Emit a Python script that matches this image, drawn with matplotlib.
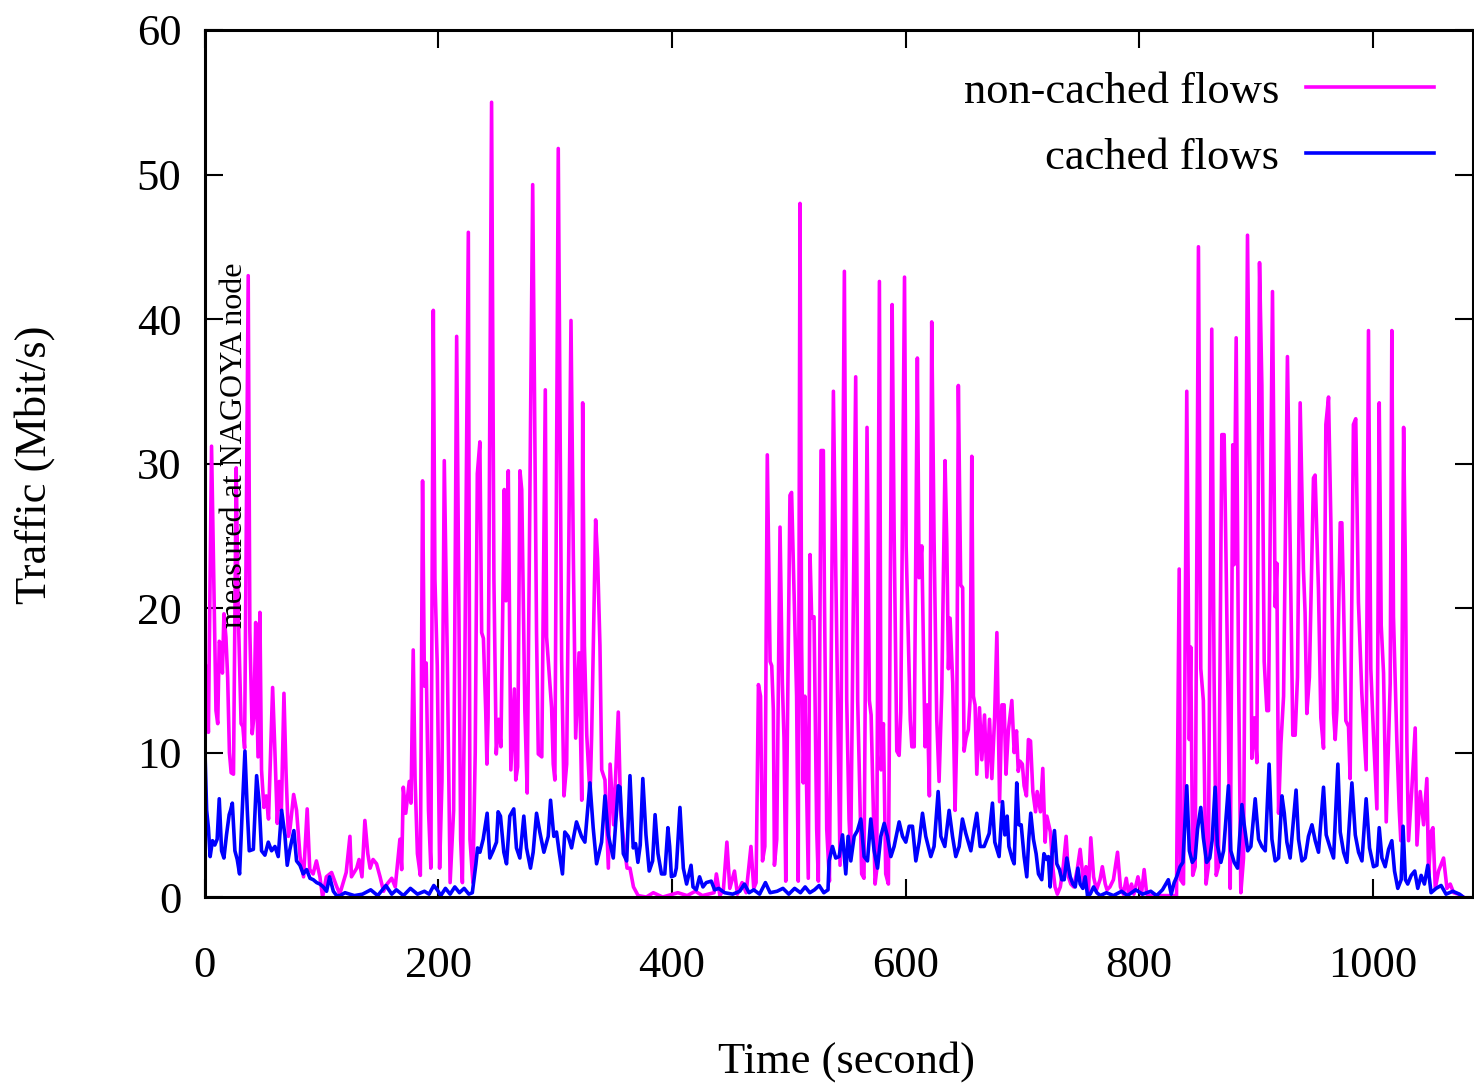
import matplotlib
matplotlib.use('Agg')
import matplotlib.pyplot as plt

plt.rcParams['font.family'] = ['Liberation Serif', 'DejaVu Serif']

# non-cached flows (magenta), time in seconds / Mbit/s
t_noncached = [0, 1, 3, 5.7, 7.5, 9.5, 11, 12.3, 13.5, 15, 16.3, 18, 19.5, 21, 22.5, 24.5, 26.8, 28.5, 31, 32.5,
               34, 37.1, 38.5, 40.5, 42, 43.5, 45.5, 47.1, 48.5, 50.5, 52.5, 54.5, 58, 60, 62, 63.7, 65.5, 67.7, 69.5, 71.5,
               73, 76, 78.5, 81.5, 84.5, 87.6, 89.8, 92.7, 95.5, 98.5, 100.8, 104, 108.5, 112.5, 115.5, 121, 124.2, 125.5, 130, 132,
               134.5, 137, 139.5, 141.5, 144, 147, 150, 153, 156, 160, 163, 167, 168.5, 169.9, 172, 175, 176.5, 178.4, 180, 182,
               184.5, 186.4, 188, 189.5, 191.5, 193.5, 195.6, 197, 199, 201, 203, 205, 207.5, 210, 213, 215.6, 217.5, 219, 220.5, 222.5,
               225.6, 227, 229.5, 231.5, 233.3, 235.5, 237, 238.5, 240.5, 241.5, 242.5, 245.5, 247.5, 249.5, 251.5, 253.5, 256.4, 257.8, 259.8, 262,
               265, 266.2, 267.8, 269.8, 271.3, 274, 276, 280.7, 284, 285.5, 288.5, 291.5, 292.6, 296.9, 298.3, 299.7, 302.6, 305.5, 307.5, 309.8,
               313.5, 315.5, 317.5, 320.4, 322.7, 323.5, 325, 327, 329.8, 331.2, 334.6, 336.3, 338.3, 339.8, 342.6, 345.5, 347, 350, 354, 356,
               358.5, 361.5, 364, 367, 371, 378, 384, 392, 405, 413, 420, 426, 436, 438, 441, 444, 447, 449.5, 453.5, 456,
               460, 463.5, 467.6, 470, 472, 474, 475.8, 477.5, 479.5, 481.6, 484, 485.4, 486.8, 487.7, 489.7, 492.5, 494.5, 495.9, 497.4, 501,
               502.4, 506.7, 508.1, 509.6, 511, 512.4, 513.8, 516.7, 518.2, 519.6, 521.6, 523.9, 525.3, 527.6, 529.6, 530.5, 532.5, 534.8, 538.2, 540.2,
               542.5, 543.9, 547.6, 549.6, 551.6, 553, 557.3, 559, 562.4, 564.4, 567, 569, 570.5, 573.9, 575.3, 577.6, 579, 581, 583, 585.3,
               588.5, 590.2, 592.5, 594.5, 595.9, 599.1, 600.5, 604, 605.4, 607.4, 610.1, 611.6, 613.9, 616.7, 618.7, 620.4, 622.4, 624.4, 626.7, 628.7,
               631, 633.8, 635.3, 636.7, 638.1, 640.4, 642.4, 643.8, 645.2, 647.2, 648.9, 650.1, 651.8, 653.8, 655.2, 656.7, 658.1, 659.5, 661, 663.3,
               665.3, 667.6, 669.6, 671.9, 673.9, 676.2, 678.2, 680.5, 682.5, 684.4, 686, 688, 691, 693, 695, 696.5, 698, 700, 701.5, 703.5,
               705.2, 707, 709, 711.3, 712.7, 715.5, 717.5, 719.5, 721, 724, 726, 728, 730, 732.5, 735, 737.5, 739.5, 741.5, 744, 747,
               749.5, 752.5, 754.5, 756.5, 758.6, 761, 763.5, 766.5, 768.5, 771, 772.5, 775, 778, 781.5, 784, 786.5, 789, 791, 793.5, 795.5,
               799, 802, 804.3, 806.5, 810, 820, 832, 834.3, 835.5, 838, 840.8, 843, 844.2, 845.9, 848, 850.8, 852.8, 855, 857.3, 859.3,
               862.2, 864.2, 866, 867.9, 870.8, 872.8, 874.5, 876.5, 878, 880.2, 881.3, 883.1, 885.1, 887.1, 889.4, 892.8, 895.1, 896.5, 898.8, 900.8,
               903.1, 905.1, 907.1, 909.4, 910.8, 914.2, 916.5, 917.9, 919.4, 921.4, 923.7, 927, 929.3, 931.6, 933.6, 935.6, 937.9, 940.7, 942.1, 943.6,
               945.8, 949.3, 950.7, 953.6, 955.6, 957.9, 959.9, 962.2, 964.2, 966.5, 967.9, 969.4, 972.2, 973.6, 975, 977, 979.3, 980.7, 983.5, 985.5,
               987.8, 990.7, 992.7, 994.4, 996.4, 998.4, 1000.7, 1003.6, 1005.6, 1007.3, 1009.3, 1011.6, 1015, 1016.4, 1017.8, 1020.7, 1022.7, 1024.1, 1026.5, 1027.9,
               1029.3, 1030.7, 1033.6, 1036.4, 1037.9, 1040.7, 1043.6, 1046.4, 1047.9, 1049.9, 1051.6, 1053.6, 1056.4, 1060.7, 1063.6, 1066.4, 1069.3, 1073.6, 1077.5]
noncached = [10, 16, 11.4, 31.2, 22.5, 12.9, 12, 17.7, 17.5, 15.5, 19.6, 18, 15.2, 10, 8.6, 8.5, 29.7, 20, 12, 11.8,
             10.3, 43, 18.4, 11.3, 12.5, 19, 9.7, 19.7, 8.8, 6.2, 7, 5.4, 14.5, 10, 5.1, 8, 6, 14.1, 8.6, 4.2,
             4.8, 7.1, 6, 2.8, 1.4, 6.1, 1.9, 1.6, 2.5, 1.4, 0, 1.4, 1.7, 0.8, 0.2, 1.7, 4.2, 1.4, 2.0, 2.6,
             1.4, 5.3, 3.0, 2.0, 2.6, 2.3, 1.4, 0.4, 0.9, 1.3, 0.7, 4, 1.9, 7.6, 5.8, 8, 6.5, 17.1, 8.1, 3,
             1.5, 28.8, 14.6, 16.2, 6, 2, 40.6, 22, 16, 2, 8, 30.2, 16.9, 1, 6, 38.8, 20, 4, 1, 15,
             46, 4, 1, 10, 29.3, 31.5, 18.3, 17.9, 12.8, 9.2, 12.4, 55, 22, 9.9, 12.3, 10.4, 28.2, 20.5, 29.5, 8.8,
             14.4, 8.1, 9, 29.5, 28.2, 12.9, 7.2, 49.3, 18.3, 9.9, 9.7, 35.1, 18, 13.1, 9.2, 8.1, 51.8, 16.4, 7, 9.2,
             39.9, 23.7, 11, 16.9, 6.7, 34.2, 17.4, 11.2, 7, 11.2, 26.1, 23.4, 17.4, 8.8, 8.1, 2, 9.2, 5, 12.8, 6,
             3.9, 2, 2, 0.7, 0.1, 0, 0.3, 0, 0.3, 0.1, 0.4, 0.1, 0.3, 1.6, 0.1, 0.5, 3.8, 0.6, 1.8, 0.2,
             1.0, 0.3, 3.5, 0.6, 1.0, 14.7, 13.9, 2.5, 3.5, 30.6, 16.3, 16, 12.9, 2.2, 4, 25.6, 14.8, 11, 1.1, 27.8,
             28, 13.9, 1.1, 48, 17.5, 7.9, 13.9, 1.3, 23.7, 19.3, 19.4, 4.7, 1.1, 30.9, 30.9, 21.2, 4.7, 1.1, 35, 22.7,
             10.1, 2.2, 43.3, 13.7, 5.4, 2.8, 36, 13.6, 1.6, 1.3, 32.5, 13.6, 12.6, 0.9, 1.9, 42.6, 8.8, 12, 1.6, 0.9,
             41, 25.3, 10.1, 9.8, 12.8, 42.9, 24.3, 12.3, 10.4, 10.4, 37.3, 22.1, 24.3, 10.4, 13.3, 7, 39.8, 24.8, 12.3, 8,
             14.2, 30.2, 24.6, 15.8, 19.3, 14.8, 6, 11, 35.4, 21.6, 21.4, 10.1, 11, 11.6, 13.6, 30.5, 13.9, 13.3, 8.5, 13.1,
             9.5, 12.6, 8.3, 12.3, 8.2, 12.3, 18.3, 6.6, 13.3, 13.3, 8.5, 11.5, 13.6, 10, 11.5, 8.7, 9.4, 9.2, 7.7, 7,
             10.9, 10.8, 7.3, 5.9, 7.3, 5.9, 8.9, 3.8, 5.6, 4.5, 2.1, 0.7, 0.2, 0.7, 2.1, 4.2, 1.4, 0.9, 0.7, 1.9,
             3.3, 0.9, 2.1, 0.2, 4.1, 1.4, 0.5, 1.2, 2.1, 0.9, 0.5, 0.7, 1.2, 3.1, 0.7, 0.2, 1.3, 0.2, 0.9, 0.2,
             1.4, 0.2, 1.9, 0.2, 0.1, 0.1, 0.1, 22.7, 1.2, 0.9, 35, 10.9, 17.3, 1.5, 2.1, 45, 15.8, 13.6, 0.9, 2.1,
             39.3, 15.2, 1.5, 2.1, 32, 32, 23, 11.5, 0.6, 31.3, 23, 38.7, 16, 0.3, 2.7, 45.8, 27.5, 9.6, 12.4, 9.3,
             43.9, 35.4, 16.3, 12.9, 12.9, 41.9, 20.1, 23.1, 5.8, 10.6, 13.9, 37.4, 24.6, 11.2, 11.2, 15.2, 34.2, 22.7, 19.7, 12.7,
             15.2, 29, 29.2, 21.2, 12.4, 10.3, 32.7, 34.6, 25.9, 12.7, 10.9, 13, 25.9, 25.9, 20.7, 12.2, 11.8, 8.2, 32.7, 33.1,
             20.4, 14.1, 11.2, 8.8, 39.2, 15.8, 11.2, 6.1, 34.2, 18.8, 15.5, 5.2, 14.8, 39.2, 19.4, 10.8, 6.1, 3.9, 32.5, 23.6,
             10.5, 3.9, 7.6, 11.7, 3.6, 7.3, 5, 8.2, 1.5, 4.5, 4.8, 0.6, 1.8, 2.7, 0.6, 0.9, 0.3, 0.2, 0]

# cached flows (blue)
t_cached = [0, 1.5, 3, 4.5, 6.5, 8.5, 10.5, 12.3, 14.3, 16.3, 18.5, 20.8, 22, 23.5, 25.7, 27.7, 29.7, 32, 34.3, 36.3,
            38, 41.5, 44.3, 46.5, 48.5, 51.4, 54.3, 57.1, 60, 62.8, 65.7, 68.5, 70.5, 72.8, 76.2, 78.5, 81.4, 84.2, 87.1, 90,
            92.8, 95.7, 98.5, 101.4, 104.2, 106.8, 110, 112.8, 115.7, 120, 128, 135, 142, 148, 155, 160, 164, 170, 176, 182,
            188, 192, 196, 199, 202, 206, 210, 214, 218, 222, 226, 229, 232.1, 233.5, 235.5, 238.3, 241.7, 244, 246.8, 249.7,
            251.1, 253.1, 256, 258.3, 261.1, 264.5, 266.8, 269.7, 273.1, 275.4, 278.8, 281.1, 284, 286.8, 290.3, 294, 296, 298.8, 301.1, 303.4,
            306.2, 308.2, 311.1, 314, 318.2, 322.5, 325.4, 329.7, 332.5, 335.4, 339.7, 342.6, 345.4, 349.7, 354, 355.5, 358.3, 361.2, 364, 366.8,
            368.8, 370.8, 372.8, 375, 377.7, 380.5, 383.4, 385.5, 388, 391, 393.8, 396.5, 398, 399.5, 402.3, 403.7, 406.8, 409.7, 412.5, 416.3,
            418, 420.8, 423.6, 426.5, 429.3, 433.6, 436.5, 440, 445, 452, 458, 462, 466, 470, 475, 480, 484, 490, 495, 500,
            505, 510, 514, 518, 522, 526, 530, 533.6, 534.5, 537.4, 540.2, 543.1, 546, 548.8, 550.8, 553.1, 556, 558.8, 561.7, 564.5,
            567.4, 570.2, 573.1, 576, 578.8, 581.7, 584.5, 587.4, 590.2, 594.5, 597.4, 600.2, 603.1, 605.9, 608.8, 611.6, 614.5, 617.3, 621.6, 624.4,
            627.9, 630.2, 633.6, 637.3, 640.2, 643, 645.9, 648.7, 651.6, 655.9, 658.7, 661, 663.9, 667.3, 671.6, 674.4, 676.4, 680.1, 683, 685,
            687, 688.5, 691.5, 693, 695.2, 697, 699, 701.5, 703.8, 705.5, 707.2, 709.5, 711.8, 713.8, 716.6, 718.5, 720.8, 722.3, 723.8, 725.5,
            727.5, 729.5, 731.8, 733.8, 735.8, 738.1, 741, 743.3, 745.3, 747.6, 749.5, 751.8, 753.8, 755.8, 758.1, 761, 763.8, 766.7, 772, 778,
            785, 790, 797, 803, 810, 815, 820, 825, 827.5, 830, 832.2, 835, 837.5, 840.8, 843, 845.5, 848, 850, 852.8, 855,
            857.8, 860.5, 862.5, 865.1, 867, 870, 872.3, 876.5, 878.5, 881.4, 884.3, 888, 890, 893, 895.7, 899.4, 902.3, 905.1, 908, 911.3,
            913.7, 916.5, 919.4, 922.3, 924.3, 926.5, 929.3, 934.4, 936.5, 939.4, 942.2, 945, 948, 950.8, 953.6, 957.9, 960.2, 963.6, 966.5, 970.2,
            972.2, 975.1, 977.9, 982.2, 985.1, 987.9, 990.8, 994.4, 997.3, 1000.7, 1003.6, 1005.6, 1007.9, 1010.7, 1013.6, 1016.4, 1018.7, 1021.5, 1024.4, 1026,
            1028, 1030, 1033, 1036, 1038.6, 1041.5, 1044.3, 1047.2, 1050, 1054.3, 1058.6, 1062.8, 1068.6, 1074.3, 1077.5]
cached = [10.3, 6, 4.8, 2.8, 3.9, 3.6, 4, 6.8, 3.2, 2.7, 4.3, 5.7, 6, 6.5, 3.2, 2.6, 1.6, 6, 10.1, 6,
          3.2, 3.3, 8.4, 6.5, 3.2, 2.9, 3.8, 3.2, 3.5, 2.8, 6, 4.3, 2.2, 3.3, 4.6, 2.5, 2.2, 1.6, 1.9, 1.3,
          1.2, 1.0, 0.9, 0.7, 0.4, 1.4, 0.4, 0.1, 0.1, 0.3, 0.1, 0.2, 0.5, 0.1, 0.8, 0.2, 0.5, 0.1, 0.6, 0.2,
          0.4, 0.2, 0.8, 0.5, 0.1, 0.6, 0.2, 0.7, 0.3, 0.6, 0.2, 0.3, 2.3, 3.4, 3.1, 4, 5.8, 2.7, 3.2, 3.8,
          5.9, 5.6, 3.1, 2.3, 5.6, 6.1, 3.4, 2.7, 5.6, 3.4, 2, 3.1, 5.8, 4.5, 3.1, 4.2, 6.7, 4.2, 4.5, 3.1,
          1.6, 4.5, 4.2, 3.4, 5.2, 4.2, 3.8, 7.9, 4.8, 2.3, 3.8, 7, 4.3, 2.7, 7.7, 7.6, 3.0, 2.5, 8.4, 3.4,
          3.7, 2.4, 3.6, 8.2, 4.3, 1.8, 2.5, 5.7, 3, 1.6, 1.6, 4.8, 3.5, 1.4, 1.5, 2, 6.2, 2, 0.9, 2.2,
          0.7, 0.5, 1.4, 0.7, 1.0, 1.1, 0.5, 0.6, 0.3, 0.2, 0.4, 0.9, 0.3, 0.5, 0.2, 1.0, 0.3, 0.4, 0.6, 0.2,
          0.6, 0.3, 0.7, 0.3, 0.5, 0.8, 0.3, 0.5, 2.5, 3.5, 2.7, 2.8, 4.3, 1.6, 4.2, 2.5, 4.2, 4.6, 5.4, 2.8,
          2.5, 5.4, 3.2, 2, 4.2, 5.1, 4.2, 2.8, 3.5, 5.2, 4.2, 3.8, 4.9, 4.9, 2.5, 3.8, 5.8, 4.2, 2.8, 3.5,
          7.3, 4.2, 3.5, 6, 4.2, 2.8, 3.5, 5.4, 4.4, 3.2, 4.7, 5.8, 3.5, 3.5, 4.4, 6.5, 3.8, 2.8, 6.6, 4.3,
          5.6, 3.5, 2.6, 2.3, 7.9, 5, 5, 2.8, 1.4, 4, 5.8, 4, 3, 1.6, 1.2, 3, 2.6, 2.8, 0.7, 3,
          4.6, 2.3, 1.9, 1.2, 1.2, 2.7, 1.4, 0.9, 0.7, 2, 0.9, 0.6, 1.4, 0.1, 0.2, 0.7, 0.3, 0.1, 0.3, 0.1,
          0.4, 0.1, 0.5, 0.2, 0.4, 0.1, 0.5, 1.2, 0.2, 1, 1.4, 2.1, 2.4, 7.7, 3.2, 2.4, 2.7, 4.7, 6.2, 4.1,
          2.4, 2.7, 3.9, 7.6, 3.6, 2.4, 3.2, 7.7, 3.2, 2.4, 2, 6.4, 5, 3.2, 3.5, 6.8, 4, 3.5, 3.2, 9.2,
          4, 2.5, 2.7, 7, 5.8, 3.8, 2.7, 7.4, 4, 2.5, 2.7, 4.2, 5, 3.9, 3.1, 7.6, 4.3, 3.4, 2.7, 9.2,
          4.5, 3.1, 2.4, 7.9, 4.3, 3.1, 2.5, 6.8, 3.4, 2.1, 2.2, 4.8, 2.7, 2.1, 3.3, 3.9, 1.8, 0.6, 1.2, 4.9,
          1.2, 0.9, 1.5, 1.8, 0.6, 1.5, 0.9, 2.2, 0.3, 0.6, 0.8, 0.2, 0.4, 0.2, 0]

xticks = [0, 200, 400, 600, 800, 1000]
yticks = [0, 10, 20, 30, 40, 50, 60]

fig = plt.figure(figsize=(14.74, 10.83), dpi=100)
ax = fig.add_axes([0.139, 0.1717, 0.8604, 0.8006])

ax.plot(t_noncached, noncached, color='#ff00ff', lw=2.6, label='non-cached flows')
ax.plot(t_cached, cached, color='#0000ff', lw=2.6, label='cached flows')

ax.set_xlim(0, 1086)
ax.set_ylim(0, 60)
ax.set_xticks(xticks)
ax.set_yticks(yticks)
ax.tick_params(direction='in', length=13, width=1.5, top=True, right=True, labelsize=32)
ax.tick_params(axis='x', pad=35)
ax.tick_params(axis='y', pad=17)
for s in ax.spines.values():
    s.set_linewidth(2.2)

ax.text(25.7, 18.6, 'measured at NAGOYA node', rotation=90, ha='center', va='bottom', fontsize=23)

ax.legend(loc='upper right', bbox_to_anchor=(0.969, 0.952), frameon=False, markerfirst=False,
          fontsize=32, handlelength=2.88, handletextpad=0.6, labelspacing=0.58, borderpad=0, borderaxespad=0)

fig.text(0.5746, 0.0194, 'Time (second)', ha='center', va='center', fontsize=32)
fig.text(0.0237, 0.5706, 'Traffic (Mbit/s)', ha='center', va='center', rotation=90, fontsize=32)

fig.savefig('out.png', dpi=100)
